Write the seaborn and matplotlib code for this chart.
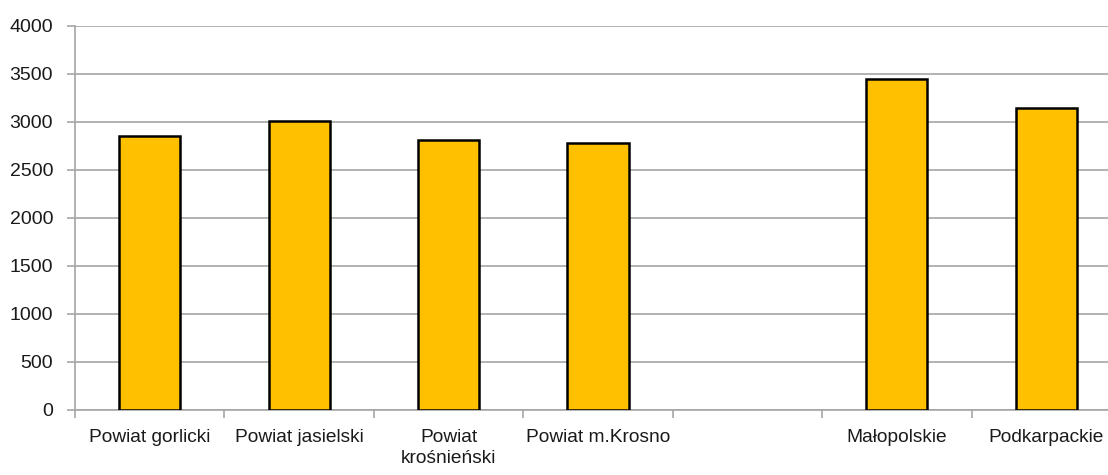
import numpy as np
import pandas as pd
import seaborn as sns
import matplotlib.pyplot as plt

# Dane
kategorie = ['Powiat gorlicki', 'Powiat jasielski', 'Powiat\nkrośnieński', 'Powiat m.Krosno',
             ' ', 'Małopolskie', 'Podkarpackie']
wartosci = [2850, 3010, 2808, 2781, np.nan, 3451, 3149]
y_ticks = [0, 500, 1000, 1500, 2000, 2500, 3000, 3500, 4000]

df = pd.DataFrame({'kategoria': kategorie, 'wartosc': wartosci})

sns.set_style('white')
plt.rcParams['font.family'] = ['Liberation Sans', 'DejaVu Sans']

fig = plt.figure(figsize=(11.08, 4.75), dpi=100)
# obszar wykresu wychodzi poza prawa krawedz, jak w oryginale
ax = fig.add_axes([75 / 1108, 65 / 475, 1046 / 1108, 384 / 475])

sns.barplot(data=df, x='kategoria', y='wartosc', order=kategorie, color='#FFC000',
            saturation=1, width=0.41, edgecolor='black', linewidth=1.8, ax=ax, zorder=3)

ax.set_ylim(0, 4000)
ax.set_xlim(-0.5, len(kategorie) - 0.5)
ax.set_yticks(y_ticks)
ax.yaxis.grid(True, color='#a6a6a6', linewidth=1.2, zorder=0)
ax.set_xlabel('')
ax.set_ylabel('')

for s in ['top', 'right']:
    ax.spines[s].set_visible(False)
for s in ['left', 'bottom']:
    ax.spines[s].set_color('#a6a6a6')
    ax.spines[s].set_linewidth(1.2)

ax.tick_params(axis='y', which='major', length=5.8, color='#a6a6a6', width=1.2,
               labelsize=14, labelcolor='#1a1a1a', left=True, pad=10)
ax.tick_params(axis='x', which='major', length=0, labelsize=13.8, labelcolor='#1a1a1a', pad=14)
ax.set_xticks(np.arange(len(kategorie) + 1) - 0.5, minor=True)
ax.tick_params(axis='x', which='minor', length=5.5, color='#a6a6a6', width=1.2, bottom=True)

for lbl in ax.get_xticklabels():
    lbl.set_verticalalignment('top')
    lbl.set_linespacing(1.3)

plt.savefig('out.png', dpi=100)
